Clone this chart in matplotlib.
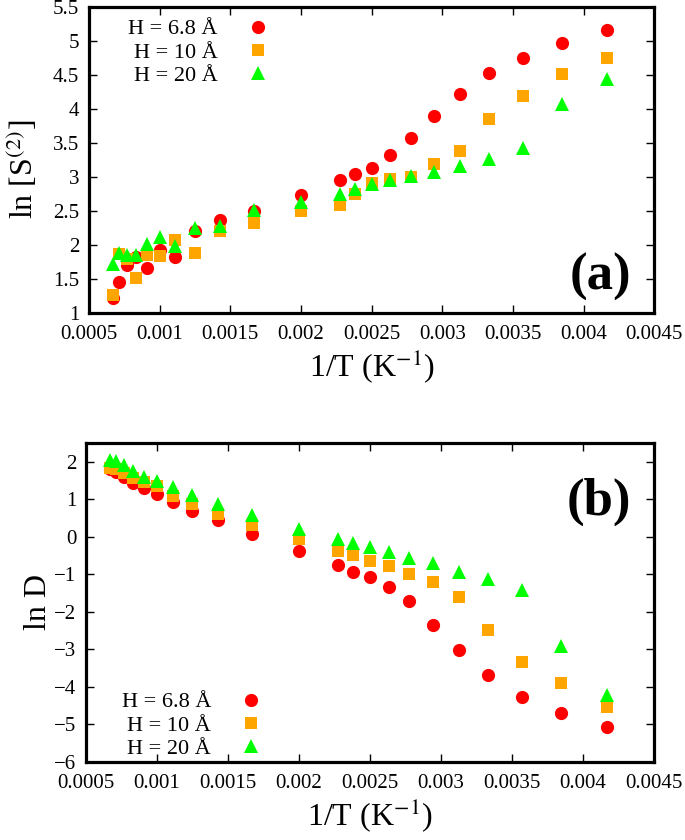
import matplotlib
matplotlib.use('Agg')
import matplotlib.pyplot as plt
import matplotlib.ticker as ticker
import numpy as np

# Temperatures (K) for each data point, x axis is 1/T
temps = [1500, 1400, 1300, 1200, 1100, 1000, 900, 800, 700, 600, 500,
         440, 420, 400, 380, 360, 340, 320, 300, 280, 260, 240]

labels = ['H = 6.8 Å', 'H = 10 Å', 'H = 20 Å']

# ln S(2) values, panel (a)
lnS_68 = [1.22, 1.46, 1.71, 1.83, 1.66, 1.93, 1.82, 2.20, 2.37, 2.50, 2.74,
          2.96, 3.05, 3.13, 3.32, 3.58, 3.90, 4.22, 4.53, 4.75, 4.97, 5.16]
lnS_10 = [1.27, 1.87, 1.80, 1.51, 1.85, 1.84, 2.07, 1.89, 2.21, 2.33, 2.50,
          2.59, 2.75, 2.92, 2.97, 3.00, 3.20, 3.39, 3.86, 4.20, 4.52, 4.76]
lnS_20 = [1.72, 1.88, 1.86, 1.86, 2.02, 2.12, 1.99, 2.25, 2.28, 2.51, 2.64,
          2.75, 2.83, 2.90, 2.96, 3.02, 3.08, 3.17, 3.27, 3.43, 4.08, 4.44]

# ln D values, panel (b)
lnD_68 = [1.80, 1.72, 1.60, 1.43, 1.29, 1.13, 0.92, 0.69, 0.43, 0.08, -0.38,
          -0.76, -0.93, -1.07, -1.34, -1.72, -2.34, -3.01, -3.69, -4.27, -4.69, -5.06]
lnD_10 = [1.84, 1.80, 1.69, 1.56, 1.45, 1.34, 1.07, 0.87, 0.61, 0.32, -0.06,
          -0.37, -0.50, -0.64, -0.79, -0.99, -1.22, -1.61, -2.48, -3.35, -3.89, -4.53]
lnD_20 = [2.05, 2.02, 1.91, 1.76, 1.60, 1.49, 1.31, 1.11, 0.88, 0.58, 0.20,
          -0.06, -0.17, -0.28, -0.42, -0.57, -0.70, -0.93, -1.13, -1.41, -2.92, -4.23]

x_ticks = [0.0005, 0.001, 0.0015, 0.002, 0.0025, 0.003, 0.0035, 0.004, 0.0045]
yticks_a = [1, 1.5, 2, 2.5, 3, 3.5, 4, 4.5, 5, 5.5]
yticks_b = [-6, -5, -4, -3, -2, -1, 0, 1, 2]

plt.rcParams['font.family'] = ['Liberation Serif', 'DejaVu Serif']
plt.rcParams['mathtext.fontset'] = 'stix'

invT = 1.0 / np.array(temps)

# marker style per series
styles = [dict(marker='o', color='#ff0000', ms=9.5),
          dict(marker='s', color='#ffa500', ms=8.5),
          dict(marker='^', color='#00ff00', ms=10)]

fig = plt.figure(figsize=(6.85, 8.4), dpi=100)
ax1 = fig.add_axes([0.130, 0.6274, 0.825, 0.364])
ax2 = fig.add_axes([0.1255, 0.0929, 0.829, 0.380])


def fmt(v, pos):
    return f'{v:g}'.replace('-', '\u2212')


def style_axis(ax, yticks):
    ax.set_xlim(0.0005, 0.0045)
    ax.set_xticks(x_ticks)
    ax.set_yticks(yticks)
    ax.xaxis.set_major_formatter(ticker.FuncFormatter(fmt))
    ax.yaxis.set_major_formatter(ticker.FuncFormatter(fmt))
    ax.tick_params(direction='in', top=True, right=True, length=6, width=1,
                   labelsize=15, pad=7)
    ax.tick_params(axis='x', pad=9)
    for s in ax.spines.values():
        s.set_linewidth(2.3)


def add_legend(ax, loc, anchor):
    # markerfirst=False -> rows right aligned, text on the left like gnuplot
    return ax.legend(loc=loc, bbox_to_anchor=anchor, markerfirst=False, frameon=False,
                     fontsize=16, handletextpad=1.3, labelspacing=0.12,
                     handlelength=1.0, borderaxespad=0, borderpad=0)


# panel (a)
for ys, lab, st in zip([lnS_68, lnS_10, lnS_20], labels, styles):
    ax1.plot(invT, ys, linestyle='none', marker=st['marker'], color=st['color'],
             markersize=st['ms'], markeredgewidth=0, label=lab)
ax1.set_ylim(1, 5.5)
style_axis(ax1, yticks_a)
ax1.set_xlabel('1/T (K$^{-1}$)', fontsize=23, labelpad=2)
ax1.set_ylabel('ln [S$^{(2)}$]', fontsize=23)
ax1.yaxis.set_label_coords(-0.087, 0.47)
ax1.text(0.96, 0.04, '(a)', transform=ax1.transAxes, fontsize=38,
         fontweight='bold', ha='right', va='bottom')
add_legend(ax1, 'upper right', (0.318, 0.962))

# panel (b)
for ys, lab, st in zip([lnD_68, lnD_10, lnD_20], labels, styles):
    ax2.plot(invT, ys, linestyle='none', marker=st['marker'], color=st['color'],
             markersize=st['ms'], markeredgewidth=0, label=lab)
ax2.set_ylim(-6, 2.5)
style_axis(ax2, yticks_b)
ax2.set_xlabel('1/T (K$^{-1}$)', fontsize=23, labelpad=2)
ax2.set_ylabel('ln D', fontsize=23)
ax2.yaxis.set_label_coords(-0.058, 0.5)
ax2.text(0.96, 0.74, '(b)', transform=ax2.transAxes, fontsize=38,
         fontweight='bold', ha='right', va='bottom')
add_legend(ax2, 'lower right', (0.31, 0.01))

fig.savefig('out.png', dpi=100)
